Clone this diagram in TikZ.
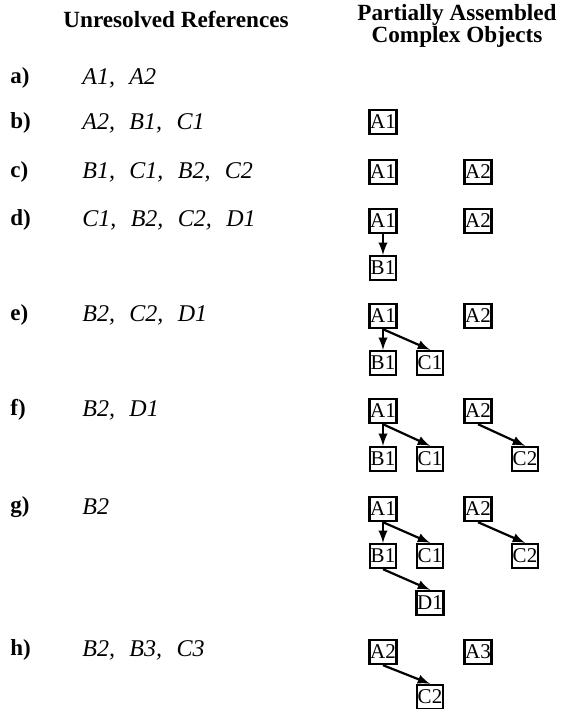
\documentclass[tikz,border=0pt]{standalone}
\usepackage{fontspec}
\setmainfont{Liberation Serif}
\usepackage{tikz}

\begin{document}
\begin{tikzpicture}[x=0.5pt, y=-0.5pt]

\tikzstyle{obj} = [draw, line width=1.2pt, rectangle, inner sep=0.4pt, minimum width=13pt, minimum height=12pt, font=\fontsize{10.5}{12}\selectfont]
\tikzstyle{lbl} = [anchor=west, inner sep=0pt, font=\bfseries\fontsize{11.5}{12}\selectfont]
\tikzstyle{refs} = [anchor=west, inner sep=0pt, font=\itshape\fontsize{12}{12}\selectfont]
\tikzstyle{head} = [inner sep=0pt, font=\bfseries\fontsize{11.6}{12}\selectfont]
\tikzstyle{link} = [-latex, line width=1.1pt]

\useasboundingbox (0,0) rectangle (562,709);

% column headings
\node[head] (hu) at (176,19) {Unresolved References};
\node[head] (hp) at (457,15) {Partially Assembled};
\node[head] (hc) at (457,37) {Complex Objects};

% row labels and unresolved references
\node[lbl] (la) at (10,78) {a)};
\node[refs] (ra) at (82,78) {A1,\hspace{0.6em}A2};
\node[lbl] (lb) at (10,123) {b)};
\node[refs] (rb) at (82,123) {A2,\hspace{0.6em}B1,\hspace{0.6em}C1};
\node[lbl] (lc) at (10,172) {c)};
\node[refs] (rc) at (82,172) {B1,\hspace{0.6em}C1,\hspace{0.6em}B2,\hspace{0.6em}C2};
\node[lbl] (ld) at (10,220) {d)};
\node[refs] (rd) at (82,220) {C1,\hspace{0.6em}B2,\hspace{0.6em}C2,\hspace{0.6em}D1};
\node[lbl] (le) at (10,315) {e)};
\node[refs] (re) at (82,315) {B2,\hspace{0.6em}C2,\hspace{0.6em}D1};
\node[lbl] (lf) at (10,410) {f)};
\node[refs] (rf) at (82,410) {B2,\hspace{0.6em}D1};
\node[lbl] (lg) at (10,507) {g)};
\node[refs] (rg) at (82,507) {B2};
\node[lbl] (lh) at (10,650) {h)};
\node[refs] (rh) at (82,650) {B2,\hspace{0.6em}B3,\hspace{0.6em}C3};

% b)
\node[obj] (ba1) at (383,122) {A1};

% c)
\node[obj] (ca1) at (383,172) {A1};
\node[obj] (ca2) at (478,172) {A2};

% d)
\node[obj] (da1) at (383,221) {A1};
\node[obj] (da2) at (478,221) {A2};
\node[obj] (db1) at (383,268) {B1};

% e)
\node[obj] (ea1) at (383,316) {A1};
\node[obj] (ea2) at (478,316) {A2};
\node[obj] (eb1) at (383,363) {B1};
\node[obj] (ec1) at (430,363) {C1};

% f)
\node[obj] (fa1) at (383,411) {A1};
\node[obj] (fa2) at (478,411) {A2};
\node[obj] (fb1) at (383,459) {B1};
\node[obj] (fc1) at (430,459) {C1};
\node[obj] (fc2) at (525,459) {C2};

% g)
\node[obj] (ga1) at (383,509) {A1};
\node[obj] (ga2) at (478,509) {A2};
\node[obj] (gb1) at (383,556) {B1};
\node[obj] (gc1) at (430,556) {C1};
\node[obj] (gc2) at (525,556) {C2};
\node[obj] (gd1) at (430,603) {D1};

% h)
\node[obj] (ha2) at (383,652) {A2};
\node[obj] (ha3) at (478,652) {A3};
\node[obj] (hc2) at (430,697) {C2};

\draw[link] (da1) -- (db1);

\draw[link] (ea1) -- (eb1);
\draw[link] (ea1.south) -- (ec1.north);

\draw[link] (fa1) -- (fb1);
\draw[link] (fa1.south) -- (fc1.north);
\draw[link] (fa2.south) -- (fc2.north);

\draw[link] (ga1) -- (gb1);
\draw[link] (ga1.south) -- (gc1.north);
\draw[link] (ga2.south) -- (gc2.north);
\draw[link] (gb1.south) -- (gd1.north);

\draw[link] (ha2.south) -- (hc2.north);

\end{tikzpicture}
\end{document}
